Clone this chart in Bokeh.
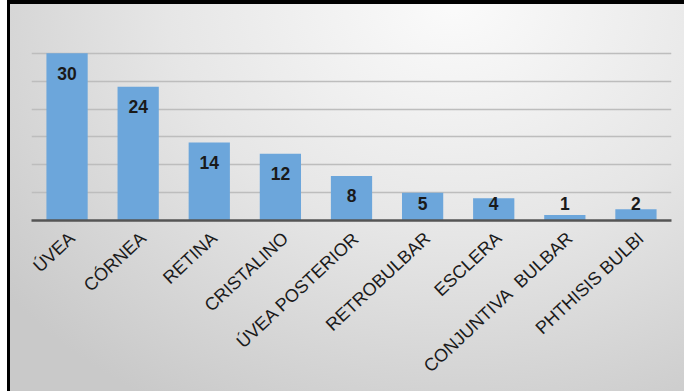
import math
from bokeh.plotting import figure
from bokeh.models import ColumnDataSource, FixedTicker, LinearAxis, Range1d
from bokeh.core.properties import value
from bokeh.embed import file_html
from bokeh.resources import INLINE

categories = ["ÚVEA", "CÓRNEA", "RETINA", "CRISTALINO", "ÚVEA POSTERIOR",
              "RETROBULBAR", "ESCLERA", "CONJUNTIVA\u00a0\u00a0BULBAR", "PHTHISIS BULBI"]
counts = [30, 24, 14, 12, 8, 5, 4, 1, 2]
y_ticks = [0, 5, 10, 15, 20, 25, 30, 35]

n = len(categories)
idx = list(range(n))
label_y = [max(v - 3.55, 3.05) for v in counts]
source = ColumnDataSource(dict(x=idx, cat=categories, val=counts, ly=label_y,
                               txt=[str(v) for v in counts]))

p = figure(x_range=Range1d(-0.5, n - 0.5), y_range=(0, 35),
           width=677, height=391, output_backend="svg", toolbar_location=None,
           min_border_left=24, min_border_right=13, min_border_top=25,
           min_border_bottom=171)
p.styles = {
    "margin-left": "7px",
    "box-shadow": "inset 3px 4px 0 0 #000000",
    "background": "radial-gradient(ellipse 85% 120% at 66% 0%, #fbfbfb 0%, #e6e6e6 50%, #c9c9c9 100%)",
}
p.background_fill_color = None
p.border_fill_color = None
p.outline_line_color = None

p.vbar(x="x", top="val", width=0.58, source=source,
       fill_color="#6ca6db", line_color=None)

p.text(x="x", y="ly", text="txt", source=source,
       text_align="center", text_baseline="middle",
       text_font=value("Liberation Sans"), text_font_style="bold",
       text_font_size="17.5px", text_color="#1a1a1a")

p.yaxis.visible = False
p.ygrid.ticker = FixedTicker(ticks=y_ticks)
p.ygrid.grid_line_color = "#bdbdbd"
p.ygrid.grid_line_width = 1.5
p.xgrid.grid_line_color = None
p.xaxis[0].visible = False

# category label axis, shifted slightly right of the bar centres (as in the original)
shift = 0.07
p.extra_x_ranges = {"lab": Range1d(-0.5 - shift, n - 0.5 - shift)}
lab_axis = LinearAxis(x_range_name="lab",
                      ticker=FixedTicker(ticks=idx),
                      major_label_overrides={i: c for i, c in enumerate(categories)})
lab_axis.axis_line_color = "#555555"
lab_axis.axis_line_width = 2.5
lab_axis.major_tick_line_color = None
lab_axis.minor_tick_line_color = None
lab_axis.major_label_orientation = 0.75
lab_axis.major_label_text_font = "Liberation Sans"
lab_axis.major_label_text_font_size = "18px"
lab_axis.major_label_text_color = "#1a1a1a"
lab_axis.major_label_standoff = 9
p.add_layout(lab_axis, "below")

open("out.html", "w").write(file_html(p, INLINE))
